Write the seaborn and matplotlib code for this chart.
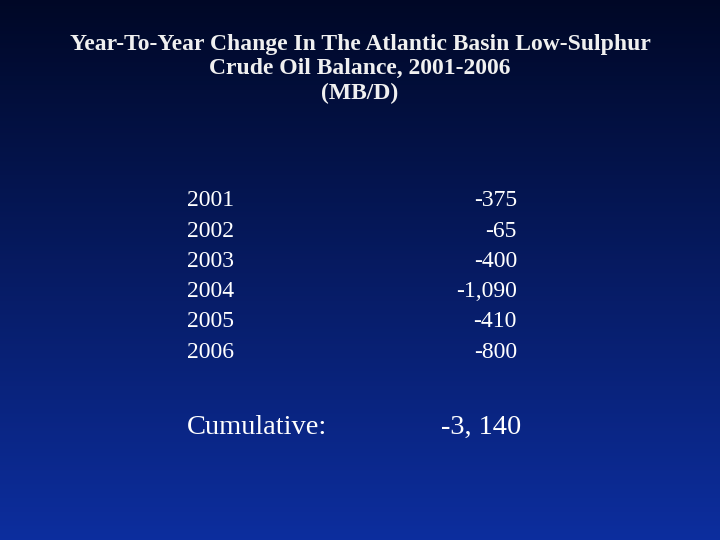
import numpy as np
import pandas as pd
import matplotlib.pyplot as plt
import seaborn as sns

years = ['2001', '2002', '2003', '2004', '2005', '2006']
changes = ['-375', '-65', '-400', '-1,090', '-410', '-800']
total_label = 'Cumulative:'
total_value = '-3, 140'
title = 'Year-To-Year Change In The Atlantic Basin Low-Sulphur\nCrude Oil Balance, 2001-2006\n(MB/D)'

df = pd.DataFrame({'year': years, 'change': changes})

sns.set_theme(style='white')
plt.rcParams['font.family'] = ['Liberation Serif', 'DejaVu Serif']

fig = plt.figure(figsize=(7.2, 5.4), dpi=100)
ax = fig.add_axes([0, 0, 1, 1])

# background gradient: dark navy at top to blue at bottom
t = np.linspace(0, 1, 256)[:, None]
top = np.array([0.0, 0.03, 0.15])
bot = np.array([0.05, 0.18, 0.62])
grad = (top + (bot - top) * t[..., None]) * np.ones((1, 2, 1))
ax.imshow(grad, extent=[0, 720, 540, 0], aspect='auto', zorder=0)
ax.set_xlim(0, 720)
ax.set_ylim(540, 0)
ax.axis('off')

ax.text(360, 69, title, ha='center', va='center', color='#f0f0f0',
        fontsize=17, fontweight='bold', linespacing=1.2)

for i, row in df.iterrows():
    y = 201 + i * 30.2
    ax.text(187, y, row['year'], ha='left', va='center', color='white', fontsize=17)
    ax.text(517, y, row['change'], ha='right', va='center', color='white', fontsize=17)

ax.text(187, 427, total_label, ha='left', va='center', color='white', fontsize=20.5)
ax.text(521, 427, total_value, ha='right', va='center', color='white', fontsize=20.5)

fig.savefig('out.png', dpi=100)
